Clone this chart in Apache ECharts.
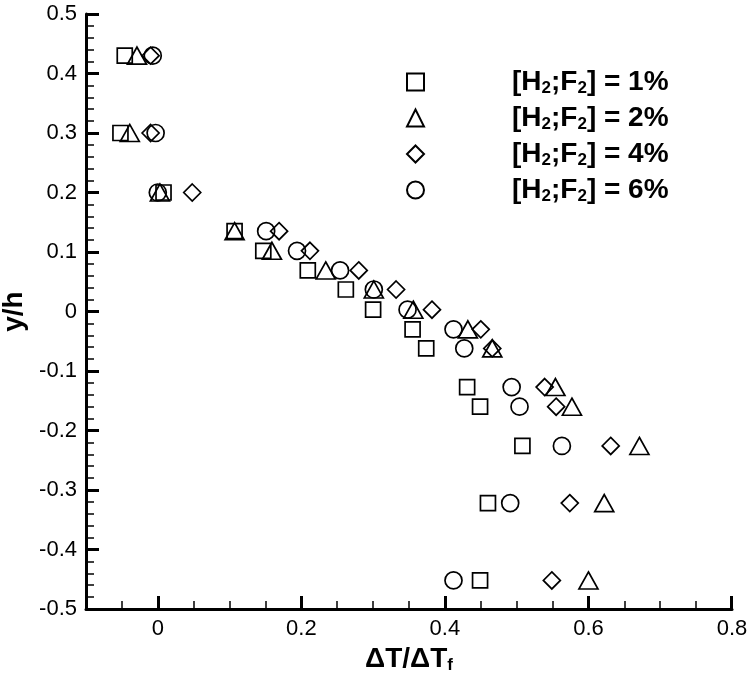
<!DOCTYPE html>
<html><head><meta charset="utf-8">
<script src="https://cdn.jsdelivr.net/npm/echarts@6/dist/echarts.min.js"></script>
<style>html,body{margin:0;padding:0;background:#fff}#c{width:748px;height:675px}</style>
</head><body><div id="c"></div>
<script>
// y/h levels shared by all series
const yLevels = [0.43, 0.30, 0.20, 0.135, 0.102, 0.069, 0.037, 0.003, -0.030, -0.062, -0.127, -0.160, -0.226, -0.322, -0.452];
// ΔT/ΔTf values per series
const x1pct = [-0.046, -0.052, 0.008, 0.107, 0.147, 0.209, 0.262, 0.300, 0.355, 0.374, 0.431, 0.449, 0.508, 0.460, 0.449];
const x2pct = [-0.029, -0.039, 0.003, 0.107, 0.159, 0.234, 0.301, 0.356, 0.432, 0.466, 0.554, 0.577, 0.671, 0.622, 0.600];
const x4pct = [-0.010, -0.010, 0.048, 0.169, 0.212, 0.280, 0.332, 0.382, 0.450, 0.466, 0.539, 0.555, 0.631, 0.574, 0.549];
const x6pct = [-0.007, -0.003, 0.000, 0.151, 0.194, 0.254, 0.301, 0.348, 0.412, 0.427, 0.493, 0.504, 0.563, 0.491, 0.412];
const seriesNames = ['1%', '2%', '4%', '6%'];
const xMajorLabels = [0, 0.2, 0.4, 0.6, 0.8];
const xMajorTicks = [0, 0.2, 0.4, 0.6, 0.7995];

const FONT = "'Liberation Sans', Arial, Helvetica, sans-serif";
const xsets = [x1pct, x2pct, x4pct, x6pct];
const symbols = ['rect', 'triangle', 'diamond', 'circle'];
const sizes = [15, [19, 17], 17, 17];

const chart = echarts.init(document.getElementById('c'), null, {renderer: 'canvas'});
const series = seriesNames.map((n, i) => ({
  name: n, type: 'scatter', xAxisIndex: 0, yAxisIndex: 0,
  symbol: symbols[i], symbolSize: sizes[i],
  itemStyle: {color: 'rgba(255,255,255,0)', borderColor: '#000', borderWidth: 1.7, opacity: 1},
  emphasis: {disabled: true},
  data: xsets[i].map((x, k) => [x, yLevels[k]])
}));
const subRich = {
  t: {fontFamily: FONT, fontWeight: 'bold', fontSize: 28, lineHeight: 30, color: '#000'},
  s: {fontFamily: FONT, fontWeight: 'bold', fontSize: 17, lineHeight: 14, verticalAlign: 'bottom', color: '#000'}
};
const option = {
  animation: false, backgroundColor: '#fff',
  grid: {left: 86, right: 16, top: 14, bottom: 66, containLabel: false, outerBoundsMode: 'none'},
  legend: {
    orient: 'vertical', left: 401, top: 63, padding: 5,
    itemWidth: 17, itemHeight: 17, itemGap: 7, selectedMode: false, data: seriesNames,
    formatter: n => '{g|}{t|[H}{s|2}{t|;F}{s|2}{t|] = ' + n + '}',
    textStyle: {color: '#000', rich: Object.assign({g: {width: 83}}, subRich)}
  },
  xAxis: [{
    type: 'value', position: 'bottom', min: -0.1, max: 0.8, interval: 0.05,
    axisLine: {show: true, onZero: false, lineStyle: {color: '#000', width: 3}},
    axisTick: {show: true, inside: true, length: 8, lineStyle: {color: '#000', width: 1.5}},
    axisLabel: {show: false}, splitLine: {show: false}
  }, {
    type: 'value', position: 'bottom', min: -0.1, max: 0.8,
    axisLine: {show: false, onZero: false},
    axisTick: {show: true, inside: true, length: 13, customValues: xMajorTicks, lineStyle: {color: '#000', width: 3}},
    axisLabel: {show: true, customValues: xMajorLabels, margin: 9, color: '#000', fontFamily: FONT, fontSize: 22},
    splitLine: {show: false},
    name: '{t|ΔT/ΔT}{s|f}', nameLocation: 'middle', nameGap: 29, nameTextStyle: {rich: subRich}
  }],
  yAxis: {
    type: 'value', min: -0.5, max: 0.5, interval: 0.1,
    axisLine: {show: true, onZero: false, lineStyle: {color: '#000', width: 3}},
    axisTick: {show: true, inside: true, length: 13, lineStyle: {color: '#000', width: 3}},
    minorTick: {show: true, splitNumber: 5, length: 8, lineStyle: {color: '#000', width: 1.5}},
    axisLabel: {margin: 9, color: '#000', fontFamily: FONT, fontSize: 22},
    splitLine: {show: false},
    name: 'y/h', nameLocation: 'middle', nameRotate: 90, nameGap: 33,
    nameTextStyle: {fontFamily: FONT, fontWeight: 'bold', fontSize: 28, color: '#000'}
  },
  series: series
};
chart.setOption(option);
</script>
</body></html>
